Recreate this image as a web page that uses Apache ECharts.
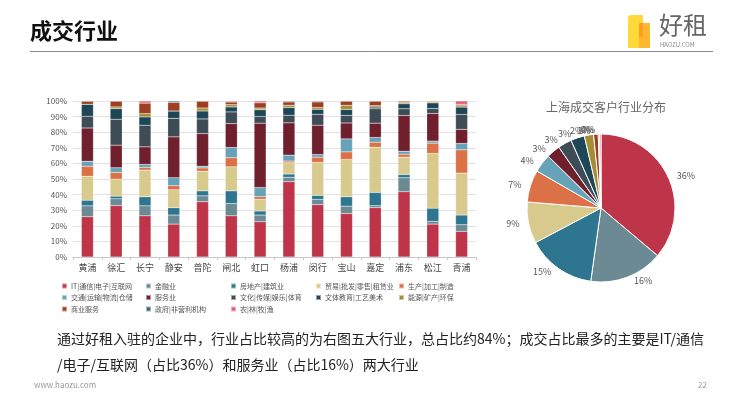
<!DOCTYPE html>
<html>
<head>
<meta charset="utf-8">
<script src="https://cdn.jsdelivr.net/npm/echarts@6/dist/echarts.min.js"></script>
<style>
  html, body { margin: 0; padding: 0; background: #fff; }
  #main { width: 740px; height: 398px; }
</style>
</head>
<body>
<div id="main"></div>
<script>
// 区县
const districts = ['黄浦','徐汇','长宁','静安','普陀','闸北','虹口','杨浦','闵行','宝山','嘉定','浦东','松江','青浦'];
// 行业
const industries = ['IT|通信|电子|互联网','金融业','房地产|建筑业','贸易|批发|零售|租赁业','生产|加工|制造',
  '交通|运输|物流|仓储','服务业','文化|传媒|娱乐|体育','文体教育|工艺美术','能源|矿产|环保',
  '商业服务','政府|非营利机构','农|林|牧|渔'];
const colors = ['#be3448','#6b8a93','#2e7690','#d8c98c','#dc7047','#66a3b8','#701f2d','#3e4c55','#1d4656','#a48e35','#9e3e22','#3f6675','#e0607a'];

// 各区行业占比(%)
const itData       = [25.8,33.0,26.4,21.1,35.4,26.4,22.6,48.3,33.5,27.9,31.6,41.8,21.1,16.4];
const financeData  = [7.0,4.3,6.4,5.8,3.8,7.9,4.3,2.8,3.4,4.7,1.3,9.0,1.7,4.3];
const estateData   = [3.6,1.7,5.8,4.7,3.2,8.1,2.6,2.1,2.6,6.0,8.5,2.1,8.5,6.2];
const tradeData    = [15.4,10.9,17.1,11.5,12.6,15.4,7.5,7.2,21.1,23.9,29.0,11.1,35.1,26.9];
const makeData     = [6.4,4.3,1.7,2.6,2.1,5.8,1.7,1.1,3.4,4.9,3.2,1.9,6.6,14.9];
const transData    = [3.2,3.0,1.9,5.1,1.1,6.6,5.8,3.8,1.7,8.3,3.0,1.9,1.3,4.1];
const serviceData  = [21.3,14.5,11.3,26.2,20.9,15.3,41.3,20.7,18.8,10.2,9.2,22.9,17.7,9.0];
const cultureData  = [7.5,16.6,13.9,11.9,9.4,7.5,4.3,4.9,7.0,4.9,9.2,4.3,3.2,9.6];
const eduData      = [7.7,6.8,5.3,4.7,5.1,3.2,4.3,4.9,3.2,3.8,1.1,3.2,3.6,4.7];
const energyData   = [0,1.1,2.1,0,1.9,1.5,1.1,1.5,1.1,2.6,0.9,0.9,0.6,0.9];
const bizData      = [2.1,3.8,6.8,5.5,4.5,1.7,3.4,2.1,3.6,2.8,3.0,0.9,0.6,0.9];
const govData      = [0,0,0,0.9,0,0,0,0.6,0.6,0,0,0,0,0];
const farmData     = [0,0,1.3,0,0,0.6,1.1,0,0,0,0,0,0,2.1];
const barData = [itData,financeData,estateData,tradeData,makeData,transData,serviceData,cultureData,eduData,energyData,bizData,govData,farmData];

// 上海整体分布(%)
const pieData = [36,16,15,9,7,4,3,3,3,2,1,0.3,0.3];

const yTicks = [0,10,20,30,40,50,60,70,80,90,100];

const font = '"Noto Sans CJK SC", sans-serif';
const chart = echarts.init(document.getElementById('main'));

// 图例按列排布
const legendCols = [
  [0,5,10],[1,6,11],[2,7,12],[3,8],[4,9]
];
const legendLeft = [56,140,225,310,393];
const legends = legendCols.map((col, i) => ({
  orient: 'vertical',
  left: legendLeft[i],
  top: 277,
  itemWidth: 5,
  itemHeight: 5,
  itemGap: 3.5,
  icon: 'rect',
  selectedMode: false,
  data: col.map(k => industries[k]),
  textStyle: { fontSize: 7, lineHeight: 8, color: '#555', fontFamily: font, padding: [0,0,0,-1] }
}));

const option = {
  animation: false,
  backgroundColor: '#fff',
  color: colors,
  textStyle: { fontFamily: font },
  title: {
    text: '上海成交客户行业分布',
    left: 601, top: 96,
    textAlign: 'center',
    textStyle: { fontSize: 12, fontWeight: 'normal', color: '#666', fontFamily: font }
  },
  legend: legends,
  grid: { left: 73, right: 264, top: 101, bottom: 141 },
  xAxis: {
    type: 'category',
    data: districts,
    axisLine: { lineStyle: { color: '#c8c8c8' } },
    axisTick: { show: true, length: 3, lineStyle: { color: '#c8c8c8' } },
    axisLabel: { fontSize: 9, color: '#444', margin: 6 }
  },
  yAxis: {
    type: 'value',
    min: yTicks[0], max: yTicks[yTicks.length - 1], interval: 10,
    axisLine: { show: false },
    axisTick: { show: false },
    axisLabel: { fontSize: 8, color: '#555', margin: 6, formatter: '{value}%' },
    splitLine: { lineStyle: { color: '#e2e2e2' } }
  },
  series: industries.map((name, i) => ({
    name: name,
    type: 'bar',
    stack: 'total',
    barWidth: 12,
    data: barData[i],
    itemStyle: { color: colors[i], borderColor: 'rgba(255,255,255,0.5)', borderWidth: 0.4 }
  })).concat([{
    type: 'pie',
    center: [601, 208],
    radius: 74,
    startAngle: 90,
    clockwise: true,
    avoidLabelOverlap: false,
    labelLayout: { hideOverlap: false },
    data: pieData.map((v, i) => ({ name: industries[i], value: v })),
    itemStyle: { borderColor: '#fff', borderWidth: 1 },
    label: {
      show: true, position: 'outside', fontSize: 9, color: '#555',
      formatter: p => Math.round(p.percent) + '%'
    },
    labelLine: { show: false, length: 4, length2: 0 }
  }]),
  graphic: [
    { type: 'text', left: 30, top: 20,
      style: { text: '成交行业', font: 'bold 22px ' + font, fill: '#111' } },
    { type: 'line', shape: { x1: 30, y1: 51.5, x2: 713, y2: 51.5 },
      style: { stroke: '#8a8a8a', lineWidth: 1 } },
    // logo
    { type: 'rect', shape: { x: 628, y: 15, width: 15, height: 33, r: [3,0,0,0] }, style: { fill: '#ffd83a' } },
    { type: 'rect', shape: { x: 639, y: 23, width: 11, height: 25 }, style: { fill: '#ffb730' } },
    { type: 'rect', shape: { x: 639, y: 23, width: 4, height: 14 }, style: { fill: '#ff9d1c' } },
    { type: 'text', left: 659, top: 13,
      style: { text: '好租', font: '24px ' + font, fill: '#666' } },
    { type: 'text', left: 660, top: 42,
      style: { text: 'HAOZU.COM', font: '6px ' + font, fill: '#888' } },
    // 说明文字
    { type: 'text', left: 57, top: 332,
      style: { text: '通过好租入驻的企业中，行业占比较高的为右图五大行业，总占比约84%；成交占比最多的主要是IT/通信', font: '14px ' + font, fill: '#222' } },
    { type: 'text', left: 57, top: 358,
      style: { text: '/电子/互联网（占比36%）和服务业（占比16%）两大行业', font: '14px ' + font, fill: '#222' } },
    { type: 'text', left: 34, top: 381,
      style: { text: 'www.haozu.com', font: '8px ' + font, fill: '#999' } },
    { type: 'text', left: 698, top: 381,
      style: { text: '22', font: '8px ' + font, fill: '#999' } }
  ]
};
chart.setOption(option);
</script>
</body>
</html>
